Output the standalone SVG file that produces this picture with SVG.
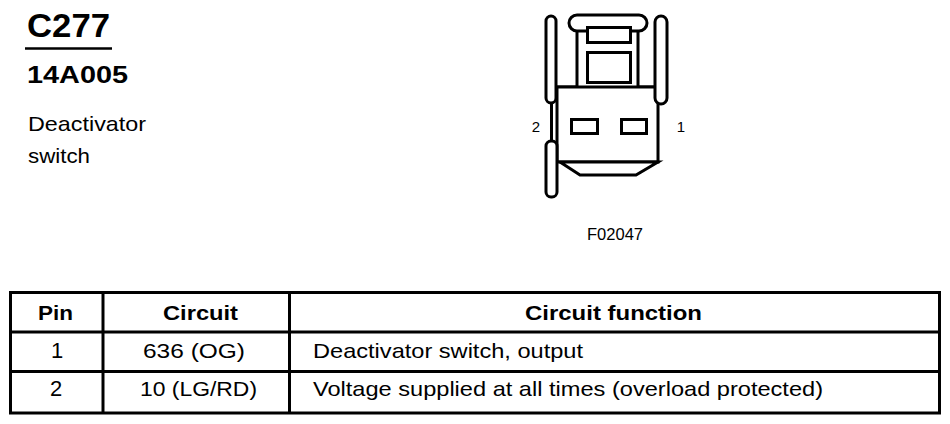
<svg xmlns="http://www.w3.org/2000/svg" width="950" height="424" viewBox="0 0 950 424">
<style>
text{font-family:"Liberation Sans",Arial,sans-serif;fill:#000}
.b{font-weight:bold}
.c{text-anchor:middle}
.s{fill:#fff;stroke:#000;stroke-width:3}
.l{fill:none;stroke:#000;stroke-width:3}
.t{fill:none;stroke:#000;stroke-width:3}
</style>
<rect width="950" height="424" fill="#fff"/>
<g id="title">
<text x="27" y="37" class="b" font-size="33" textLength="83" lengthAdjust="spacingAndGlyphs">C277</text>
<line x1="25" y1="48.5" x2="112" y2="48.5" stroke="#000" stroke-width="2.5"/>
<text x="27" y="83" class="b" font-size="23" textLength="101" lengthAdjust="spacingAndGlyphs">14A005</text>
<text x="28" y="131" font-size="21" textLength="118" lengthAdjust="spacingAndGlyphs">Deactivator</text>
<text x="28" y="163" font-size="21" textLength="62" lengthAdjust="spacingAndGlyphs">switch</text>
</g>
<g id="connector">
<line class="l" x1="551.5" y1="100" x2="551.5" y2="144" stroke-width="2"/>
<rect class="s" x="569" y="15" width="78" height="16" rx="8"/>
<path class="l" d="M557 87 H577 V31 M638 31 V87 H658"/>
<rect class="s" x="557" y="87" width="101" height="75"/>
<polygon class="s" points="560,162 580,175 636,175 658,162"/>
<rect class="s" x="587.5" y="27.5" width="43" height="15"/>
<rect class="s" x="587.5" y="52.5" width="43" height="30"/>
<rect class="s" x="571.5" y="119.5" width="26" height="14"/>
<rect class="s" x="621.5" y="119.5" width="25" height="14"/>
<rect class="s" x="546" y="16" width="10" height="87" rx="5"/>
<rect class="s" x="546" y="141" width="11" height="56" rx="5"/>
<rect class="s" x="655" y="16" width="12" height="88" rx="6"/>
<text x="536" y="132" class="c" font-size="15">2</text>
<text x="681" y="132" class="c" font-size="15">1</text>
<text x="587" y="240" font-size="16" textLength="56" lengthAdjust="spacingAndGlyphs">F02047</text>
</g>
<g id="table">
<rect class="t" x="10.5" y="292.5" width="929" height="120.5"/>
<line class="t" x1="10.5" y1="332" x2="939.5" y2="332"/>
<line class="t" x1="10.5" y1="371.5" x2="939.5" y2="371.5"/>
<line class="t" x1="103" y1="292.5" x2="103" y2="413"/>
<line class="t" x1="289.5" y1="292.5" x2="289.5" y2="413"/>
<text x="38" y="320" class="b" font-size="21" textLength="35" lengthAdjust="spacingAndGlyphs">Pin</text>
<text x="163" y="320" class="b" font-size="21" textLength="75" lengthAdjust="spacingAndGlyphs">Circuit</text>
<text x="525" y="320" class="b" font-size="21" textLength="177" lengthAdjust="spacingAndGlyphs">Circuit function</text>
<text x="57" y="358" class="c" font-size="22">1</text>
<text x="143" y="358" font-size="21" textLength="102" lengthAdjust="spacingAndGlyphs">636 (OG)</text>
<text x="313" y="358" font-size="21" textLength="270" lengthAdjust="spacingAndGlyphs">Deactivator switch, output</text>
<text x="56" y="396" class="c" font-size="22">2</text>
<text x="140" y="396" font-size="21" textLength="117" lengthAdjust="spacingAndGlyphs">10 (LG/RD)</text>
<text x="313" y="396" font-size="21" textLength="510" lengthAdjust="spacingAndGlyphs">Voltage supplied at all times (overload protected)</text>
</g>
</svg>
